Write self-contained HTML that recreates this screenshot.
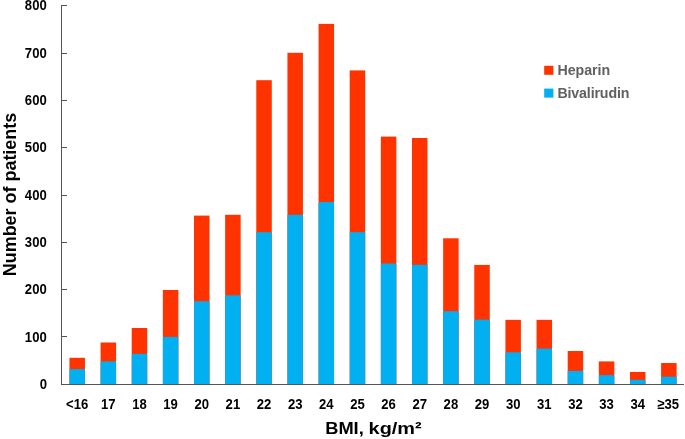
<!DOCTYPE html>
<html><head><meta charset="utf-8"><style>
html,body{margin:0;padding:0;background:#fff;}
body{width:685px;height:439px;overflow:hidden;}
svg{display:block;}
text{font-family:"Liberation Sans",sans-serif;font-weight:bold;}
.t{filter:grayscale(1);}
</style></head><body>
<svg width="685" height="439" viewBox="0 0 685 439">
<rect width="685" height="439" fill="#fff"/>
<rect x="69.45" y="357.80" width="15.5" height="26.70" fill="#FF3300"/>
<rect x="69.45" y="369.10" width="15.5" height="15.40" fill="#00B0F0"/>
<rect x="100.59" y="342.50" width="15.5" height="42.00" fill="#FF3300"/>
<rect x="100.59" y="361.40" width="15.5" height="23.10" fill="#00B0F0"/>
<rect x="131.73" y="328.00" width="15.5" height="56.50" fill="#FF3300"/>
<rect x="131.73" y="353.90" width="15.5" height="30.60" fill="#00B0F0"/>
<rect x="162.87" y="290.00" width="15.5" height="94.50" fill="#FF3300"/>
<rect x="162.87" y="336.90" width="15.5" height="47.60" fill="#00B0F0"/>
<rect x="194.01" y="215.60" width="15.5" height="168.90" fill="#FF3300"/>
<rect x="194.01" y="301.25" width="15.5" height="83.25" fill="#00B0F0"/>
<rect x="225.15" y="214.80" width="15.5" height="169.70" fill="#FF3300"/>
<rect x="225.15" y="295.30" width="15.5" height="89.20" fill="#00B0F0"/>
<rect x="256.29" y="80.20" width="15.5" height="304.30" fill="#FF3300"/>
<rect x="256.29" y="232.20" width="15.5" height="152.30" fill="#00B0F0"/>
<rect x="287.43" y="52.80" width="15.5" height="331.70" fill="#FF3300"/>
<rect x="287.43" y="214.80" width="15.5" height="169.70" fill="#00B0F0"/>
<rect x="318.57" y="23.90" width="15.5" height="360.60" fill="#FF3300"/>
<rect x="318.57" y="202.00" width="15.5" height="182.50" fill="#00B0F0"/>
<rect x="349.71" y="70.40" width="15.5" height="314.10" fill="#FF3300"/>
<rect x="349.71" y="232.20" width="15.5" height="152.30" fill="#00B0F0"/>
<rect x="380.85" y="136.60" width="15.5" height="247.90" fill="#FF3300"/>
<rect x="380.85" y="263.50" width="15.5" height="121.00" fill="#00B0F0"/>
<rect x="411.99" y="138.00" width="15.5" height="246.50" fill="#FF3300"/>
<rect x="411.99" y="264.80" width="15.5" height="119.70" fill="#00B0F0"/>
<rect x="443.13" y="238.30" width="15.5" height="146.20" fill="#FF3300"/>
<rect x="443.13" y="311.20" width="15.5" height="73.30" fill="#00B0F0"/>
<rect x="474.27" y="264.90" width="15.5" height="119.60" fill="#FF3300"/>
<rect x="474.27" y="319.60" width="15.5" height="64.90" fill="#00B0F0"/>
<rect x="505.41" y="319.85" width="15.5" height="64.65" fill="#FF3300"/>
<rect x="505.41" y="352.30" width="15.5" height="32.20" fill="#00B0F0"/>
<rect x="536.55" y="319.85" width="15.5" height="64.65" fill="#FF3300"/>
<rect x="536.55" y="348.60" width="15.5" height="35.90" fill="#00B0F0"/>
<rect x="567.69" y="351.00" width="15.5" height="33.50" fill="#FF3300"/>
<rect x="567.69" y="370.90" width="15.5" height="13.60" fill="#00B0F0"/>
<rect x="598.83" y="361.40" width="15.5" height="23.10" fill="#FF3300"/>
<rect x="598.83" y="375.10" width="15.5" height="9.40" fill="#00B0F0"/>
<rect x="629.97" y="372.00" width="15.5" height="12.50" fill="#FF3300"/>
<rect x="629.97" y="379.80" width="15.5" height="4.70" fill="#00B0F0"/>
<rect x="661.11" y="363.00" width="15.5" height="21.50" fill="#FF3300"/>
<rect x="661.11" y="376.70" width="15.5" height="7.80" fill="#00B0F0"/>
<g stroke="#555555" stroke-width="1" fill="none" shape-rendering="crispEdges">
<path d="M61.5 5 V384.5 H684.0"/>
<line x1="61.0" y1="336.50" x2="66.6" y2="336.50"/>
<line x1="61.0" y1="289.50" x2="66.6" y2="289.50"/>
<line x1="61.0" y1="242.50" x2="66.6" y2="242.50"/>
<line x1="61.0" y1="195.50" x2="66.6" y2="195.50"/>
<line x1="61.0" y1="147.50" x2="66.6" y2="147.50"/>
<line x1="61.0" y1="100.50" x2="66.6" y2="100.50"/>
<line x1="61.0" y1="53.50" x2="66.6" y2="53.50"/>
<line x1="61.0" y1="5.50" x2="66.6" y2="5.50"/>
</g>
<g class="t" font-size="14.8" fill="#000">
<text transform="translate(47.1,389.20) scale(0.885,1)" text-anchor="end">0</text>
<text transform="translate(46.7,341.80) scale(0.885,1)" text-anchor="end">100</text>
<text transform="translate(46.7,293.80) scale(0.885,1)" text-anchor="end">200</text>
<text transform="translate(46.7,246.80) scale(0.885,1)" text-anchor="end">300</text>
<text transform="translate(46.7,199.70) scale(0.885,1)" text-anchor="end">400</text>
<text transform="translate(46.7,152.30) scale(0.885,1)" text-anchor="end">500</text>
<text transform="translate(46.7,104.80) scale(0.885,1)" text-anchor="end">600</text>
<text transform="translate(46.7,57.60) scale(0.885,1)" text-anchor="end">700</text>
<text transform="translate(46.7,10.30) scale(0.885,1)" text-anchor="end">800</text>
<text transform="translate(77.20,408.8) scale(0.885,1)" text-anchor="middle">&lt;16</text>
<text transform="translate(108.34,408.8) scale(0.885,1)" text-anchor="middle">17</text>
<text transform="translate(139.48,408.8) scale(0.885,1)" text-anchor="middle">18</text>
<text transform="translate(170.62,408.8) scale(0.885,1)" text-anchor="middle">19</text>
<text transform="translate(201.76,408.8) scale(0.885,1)" text-anchor="middle">20</text>
<text transform="translate(232.90,408.8) scale(0.885,1)" text-anchor="middle">21</text>
<text transform="translate(264.04,408.8) scale(0.885,1)" text-anchor="middle">22</text>
<text transform="translate(295.18,408.8) scale(0.885,1)" text-anchor="middle">23</text>
<text transform="translate(326.32,408.8) scale(0.885,1)" text-anchor="middle">24</text>
<text transform="translate(357.46,408.8) scale(0.885,1)" text-anchor="middle">25</text>
<text transform="translate(388.60,408.8) scale(0.885,1)" text-anchor="middle">26</text>
<text transform="translate(419.74,408.8) scale(0.885,1)" text-anchor="middle">27</text>
<text transform="translate(450.88,408.8) scale(0.885,1)" text-anchor="middle">28</text>
<text transform="translate(482.02,408.8) scale(0.885,1)" text-anchor="middle">29</text>
<text transform="translate(513.16,408.8) scale(0.885,1)" text-anchor="middle">30</text>
<text transform="translate(544.30,408.8) scale(0.885,1)" text-anchor="middle">31</text>
<text transform="translate(575.44,408.8) scale(0.885,1)" text-anchor="middle">32</text>
<text transform="translate(606.58,408.8) scale(0.885,1)" text-anchor="middle">33</text>
<text transform="translate(637.72,408.8) scale(0.885,1)" text-anchor="middle">34</text>
<text transform="translate(668.16,408.8) scale(0.885,1)" text-anchor="middle">&#8805;35</text>
</g>
<g class="t" font-size="17" fill="#000">
<text x="325.2" y="433.6" textLength="38.6" lengthAdjust="spacingAndGlyphs">BMI,</text>
<text x="368.6" y="433.6" textLength="53" lengthAdjust="spacingAndGlyphs">kg/m&#178;</text>
</g>
<text class="t" transform="translate(15.7,194.5) rotate(-90)" font-size="18.6" text-anchor="middle" textLength="163.4" lengthAdjust="spacingAndGlyphs" fill="#000">Number of patients</text>
<rect x="544.2" y="65.8" width="9.2" height="9" fill="#FF3300"/>
<rect x="544.2" y="88.6" width="9.2" height="9" fill="#00B0F0"/>
<g class="t" font-size="14.2" fill="#616161">
<text x="557.4" y="74.9" textLength="52.8" lengthAdjust="spacing">Heparin</text>
<text x="557.4" y="97.6" textLength="72" lengthAdjust="spacing">Bivalirudin</text>
</g>
</svg>
</body></html>
